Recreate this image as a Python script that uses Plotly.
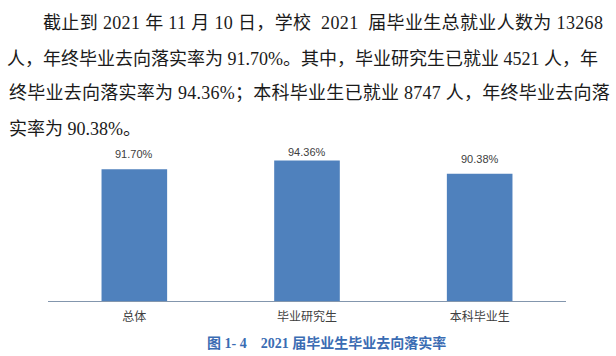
import plotly.graph_objects as go

categories = ["总体", "毕业研究生", "本科毕业生"]
rates = [91.70, 94.36, 90.38]
rate_labels = ["91.70%", "94.36%", "90.38%"]

paragraph_lines = [
    "截止到 2021 年 11 月 10 日，学校\u00a0 2021\u00a0 届毕业生总就业人数为 13268",
    "人，年终毕业去向落实率为 91.70%。其中，毕业研究生已就业 4521 人，年",
    "终毕业去向落实率为 94.36%；本科毕业生已就业 8747 人，年终毕业去向落",
    "实率为 90.38%。",
]
caption = "图 1- 4\u00a0\u00a0\u00a0 2021 届毕业生毕业去向落实率"

W, H = 616, 356
ML, MR, MT, MB = 48, 50, 145, 55
PH = H - MT - MB


def py(pix):
    # convert a pixel row to paper fraction
    return (H - MB - pix) / PH


def px(pix):
    return (pix - ML) / (W - ML - MR)


fig = go.Figure()
fig.add_trace(go.Bar(
    x=categories, y=rates,
    marker=dict(color="#4f81bd", line=dict(width=0)),
    width=0.38,
    hoverinfo="skip",
))

annotations = []
label_shift = [14, 8, 14]
for i, (c, v, t) in enumerate(zip(categories, rates, rate_labels)):
    annotations.append(dict(
        x=c, y=v, xref="x", yref="y", text=t, showarrow=False,
        yanchor="bottom", yshift=label_shift[i] - 7,
        font=dict(family="Liberation Sans, Arial", size=11, color="#404040"),
    ))

para_font = dict(family="Liberation Serif, Noto Sans CJK SC", size=18, color="#1a1a1a")
line_x = [41, 5, 7, 7]
line_y = [23, 59, 93, 129]
line_spacing = [0.35, 0, 0.25, 0]
for t, lx, ly, ls in zip(paragraph_lines, line_x, line_y, line_spacing):
    txt = t if ls == 0 else '<span style="letter-spacing:%.2fpx">%s</span>' % (ls, t)
    annotations.append(dict(
        x=px(lx), y=py(ly), xref="paper", yref="paper", text=txt, showarrow=False,
        xanchor="left", yanchor="middle", font=para_font,
    ))

annotations.append(dict(
    x=px(326), y=py(343), xref="paper", yref="paper", text="<b>" + caption + "</b>",
    showarrow=False, xanchor="center", yanchor="middle",
    font=dict(family="Liberation Serif, Noto Sans CJK SC", size=14, color="#3a6cb3"),
))

fig.update_layout(
    width=W, height=H,
    margin=dict(l=ML, r=MR, t=MT, b=MB, pad=0),
    paper_bgcolor="white", plot_bgcolor="white",
    showlegend=False,
    annotations=annotations,
    bargap=0.62,
    xaxis=dict(
        showgrid=False, zeroline=False, showline=True, linecolor="#8396ad", linewidth=1,
        ticks="", tickfont=dict(family="Noto Sans CJK SC", size=12, color="#404040"),
        ticklabelstandoff=5,
        range=[-0.5, 2.5],
    ),
    yaxis=dict(
        range=[51.8, 51.8 + PH / 3.3], showgrid=False, zeroline=False,
        showticklabels=False, showline=False, ticks="",
    ),
)

fig.write_html("out.html", config={"displayModeBar": False})
